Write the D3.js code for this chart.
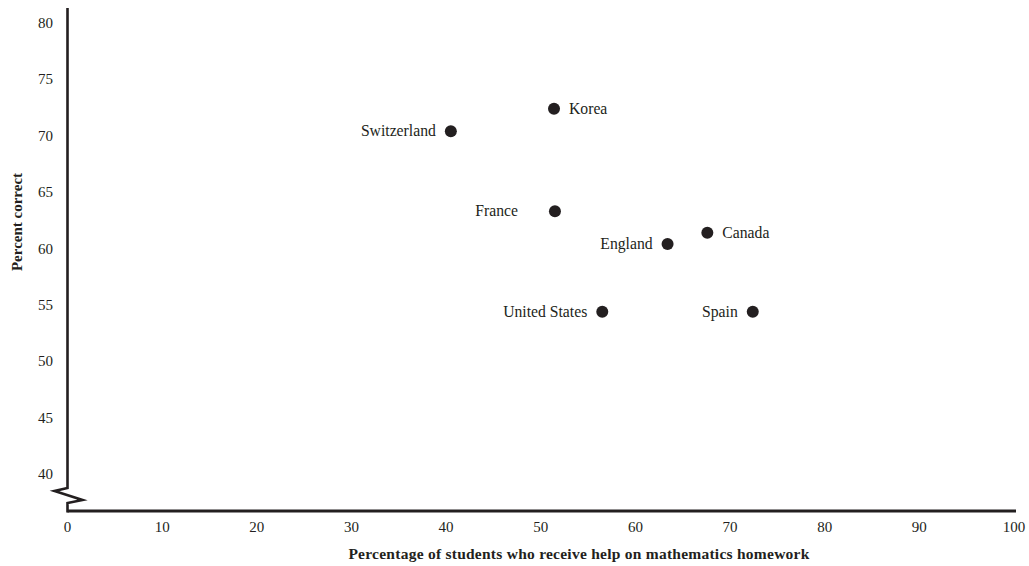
<!DOCTYPE html>
<html><head><meta charset="utf-8">
<script src="https://cdn.jsdelivr.net/npm/d3@7"></script>
<style>body{margin:0;background:#fff}svg{display:block}text{font-family:"Liberation Serif","Times New Roman",serif;fill:#231f20}</style>
</head><body>
<svg id="c" width="1029" height="566"></svg>
<script>
const countries = ["Korea","Switzerland","France","England","Canada","United States","Spain"];
const helpPct = [51.4, 40.5, 51.5, 63.4, 67.6, 56.5, 72.4];
const pctCorrect = [72.4, 70.4, 63.3, 60.4, 61.4, 54.4, 54.4];
const labelSide = ["right","left","left","left","right","left","left"];
const xTicks = [0,10,20,30,40,50,60,70,80,90,100];
const yTicks = [40,45,50,55,60,65,70,75,80];

const svg = d3.select("#c");
const ink = "#231f20";
const x = d3.scaleLinear().domain([0,100]).range([67.5,1014]);
const y = d3.scaleLinear().domain([40,80]).range([474,23]);
const x0 = x(0), yBase = 511;

// axes lines
svg.append("line").attr("x1",x0).attr("x2",x(100)+2).attr("y1",yBase).attr("y2",yBase)
  .attr("stroke",ink).attr("stroke-width",2.8);
svg.append("path").attr("fill","none").attr("stroke",ink).attr("stroke-width",2.6)
  .attr("stroke-linejoin","miter")
  .attr("d",`M${x0},8 L${x0},488 L${x0-13},491 L${x0+15},500 L${x0},503 L${x0},${yBase+1.4}`);

// tick labels
svg.append("g").selectAll("text").data(xTicks).join("text")
  .attr("x",d=>x(d)).attr("y",532).attr("text-anchor","middle").attr("font-size",15).text(d=>d);
svg.append("g").selectAll("text").data(yTicks).join("text")
  .attr("x",53).attr("y",d=>y(d)+5).attr("text-anchor","end").attr("font-size",15).text(d=>d);

// axis titles
svg.append("text").attr("x",579).attr("y",559).attr("text-anchor","middle")
  .attr("font-size",15.5).attr("font-weight","bold").attr("letter-spacing",0.25)
  .text("Percentage of students who receive help on mathematics homework");
svg.append("text").attr("transform","translate(22,222) rotate(-90)").attr("text-anchor","middle")
  .attr("font-size",15).attr("font-weight","bold").text("Percent correct");

// points
const data = countries.map((c,i)=>({c, xv:helpPct[i], yv:pctCorrect[i], side:labelSide[i]}));
svg.append("g").selectAll("circle").data(data).join("circle")
  .attr("cx",d=>x(d.xv)).attr("cy",d=>y(d.yv)).attr("r",6).attr("fill",ink);
const off = {"France":37};
svg.append("g").selectAll("text").data(data).join("text")
  .attr("x",d=>d.side==="right"? x(d.xv)+15 : x(d.xv)-(off[d.c]||15))
  .attr("y",d=>y(d.yv)+5)
  .attr("text-anchor",d=>d.side==="right"?"start":"end")
  .attr("font-size",15.7).text(d=>d.c);
</script>
</body></html>
